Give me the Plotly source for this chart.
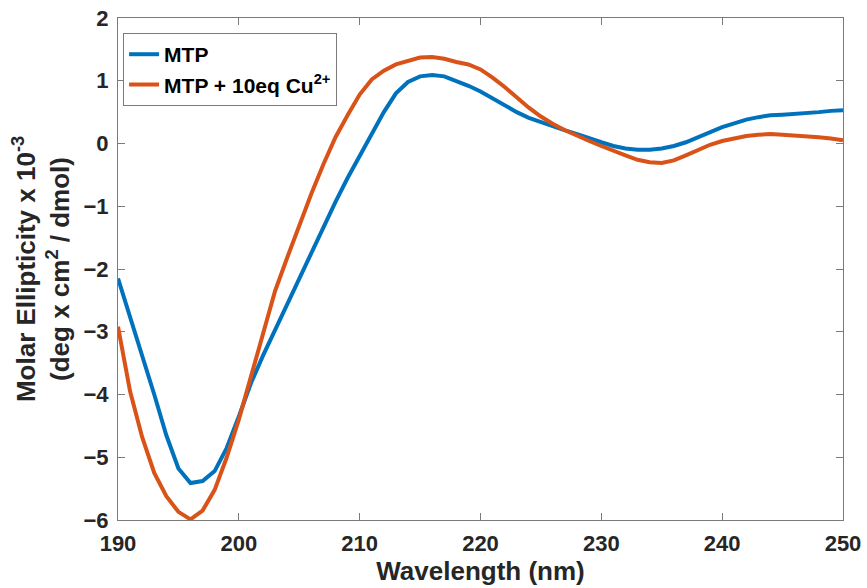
import plotly.graph_objects as go

wavelength = list(range(190, 251))

mtp = [-2.15, -2.75, -3.38, -4.0, -4.65, -5.18, -5.41, -5.38, -5.22, -4.85,
       -4.35, -3.82, -3.38, -2.97, -2.55, -2.13, -1.72, -1.33, -0.93, -0.55,
       -0.2, 0.16, 0.5, 0.8, 0.98, 1.07, 1.09, 1.07, 1.0, 0.92,
       0.83, 0.72, 0.61, 0.5, 0.41, 0.34, 0.28, 0.21, 0.15, 0.08,
       0.02, -0.04, -0.08, -0.1, -0.1, -0.08, -0.04, 0.02, 0.1, 0.18,
       0.26, 0.32, 0.38, 0.42, 0.45, 0.46, 0.47, 0.48, 0.5, 0.52, 0.53]

mtp_cu = [-2.92, -3.95, -4.68, -5.25, -5.62, -5.87, -5.99, -5.85, -5.52, -5.0,
          -4.4, -3.72, -3.0, -2.35, -1.82, -1.3, -0.8, -0.33, 0.1, 0.45,
          0.78, 1.02, 1.16, 1.26, 1.32, 1.37, 1.38, 1.35, 1.3, 1.26,
          1.18, 1.05, 0.9, 0.73, 0.57, 0.43, 0.31, 0.21, 0.12, 0.04,
          -0.04, -0.12, -0.19, -0.26, -0.3, -0.31, -0.27, -0.19, -0.1, -0.02,
          0.04, 0.08, 0.12, 0.14, 0.15, 0.14, 0.13, 0.11, 0.1, 0.08, 0.05]

x_ticks = [190, 200, 210, 220, 230, 240, 250]
y_ticks = [-6, -5, -4, -3, -2, -1, 0, 1, 2]

series_names = ["MTP", "MTP + 10eq Cu<sup>2+</sup>"]
colors = ["#0072BD", "#D95319"]

FONT = "Liberation Sans, Arial, sans-serif"

fig = go.Figure()
for name, vals, c in zip(series_names, [mtp, mtp_cu], colors):
    fig.add_trace(go.Scatter(x=wavelength, y=vals, mode="lines", name=name,
                             line=dict(color=c, width=4)))

axis_common = dict(
    showgrid=False, zeroline=False, showline=True, linecolor="#7a7a7a",
    linewidth=1, mirror="ticks", ticks="inside", ticklen=7, tickcolor="#7a7a7a",
    automargin=False,
    tickfont=dict(family=FONT, size=22, color="#262626", weight="bold"),
)

fig.update_layout(
    width=867, height=588,
    margin=dict(l=118, r=24, t=18, b=68),
    paper_bgcolor="white", plot_bgcolor="white",
    showlegend=True,
    legend=dict(x=0.007, y=0.97, xanchor="left", yanchor="top",
                bgcolor="white", bordercolor="#7a7a7a", borderwidth=1,
                font=dict(family=FONT, size=21, color="#000000", weight="bold"),
                tracegroupgap=0, itemwidth=30),
    xaxis=dict(range=[190, 250], tickvals=x_ticks, ticklabelstandoff=4,
               title=dict(text="Wavelength (nm)", standoff=6,
                          font=dict(family=FONT, size=26, color="#262626", weight="bold")),
               **axis_common),
    yaxis=dict(range=[-6, 2], tickvals=y_ticks, ticklabelstandoff=4,
               title=dict(text="Molar Ellipticity x 10<sup>-3</sup><br>(deg x cm<sup>2</sup> / dmol)",
                          standoff=6,
                          font=dict(family=FONT, size=26, color="#262626", weight="bold")),
               **axis_common),
)

fig.write_html("out.html", config={"displayModeBar": False},
               post_script="document.body.style.margin='0px';")
